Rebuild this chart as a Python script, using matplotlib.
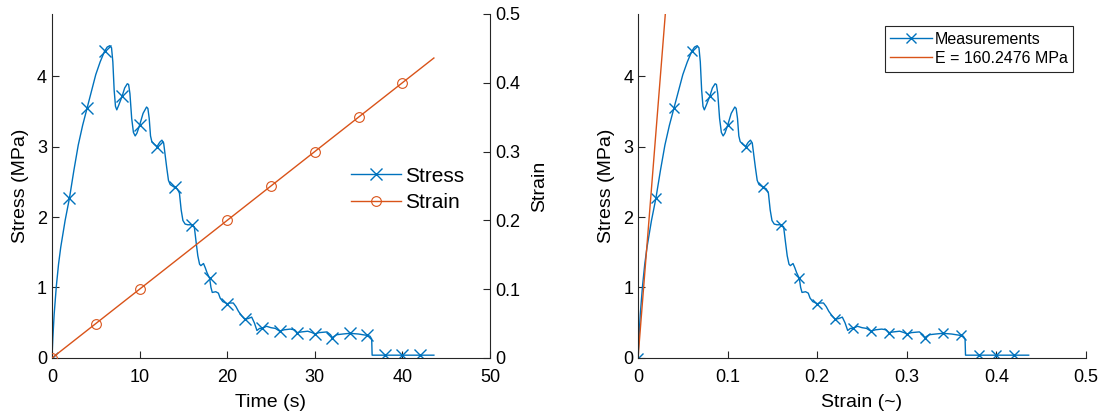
import numpy as np
import matplotlib
matplotlib.use("Agg")
import matplotlib.pyplot as plt

plt.rcParams["font.family"] = ["Liberation Sans", "DejaVu Sans"]

# measured compression test, stress sampled along time
time_s = [
    0.0, 0.1, 0.25, 0.5, 0.75, 1.0, 1.5, 2.0, 2.5, 3.0, 3.5, 4.0, 4.5, 5.0,
    5.5, 6.0, 6.3, 6.6, 6.8, 6.95, 7.1, 7.25, 7.4, 7.6, 8.0, 8.3, 8.6, 8.75,
    8.9, 9.1, 9.3, 9.5, 9.7, 10.0, 10.4, 10.8, 10.95, 11.1, 11.25, 11.4,
    11.7, 12.0, 12.3, 12.55, 12.75, 12.9, 13.1, 13.3, 13.5, 14.0, 14.3,
    14.55, 14.75, 14.95, 15.2, 15.5, 16.0, 16.25, 16.45, 16.65, 16.85, 17.0,
    17.3, 17.5, 17.7, 18.0, 18.15, 18.3, 18.7, 19.0, 19.2, 19.5, 20.0, 20.3,
    20.7, 21.0, 21.3, 21.65, 22.0, 22.4, 22.8, 23.1, 23.4, 23.7, 24.0, 24.5,
    25.0, 25.5, 26.0, 26.5, 27.2, 27.7, 28.0, 28.5, 29.2, 29.7, 30.0, 30.5,
    31.4, 31.8, 32.0, 32.5, 33.2, 34.0, 35.0, 36.0, 36.3, 36.5, 36.55, 38.0,
    40.0, 42.0, 43.6,
]
stress_mpa = [
    0.00, 0.28, 0.62, 1.02, 1.33, 1.57, 1.95, 2.27, 2.66, 3.02, 3.30, 3.54,
    3.78, 4.02, 4.20, 4.35, 4.41, 4.43, 4.40, 4.20, 3.80, 3.57, 3.52, 3.58,
    3.71, 3.83, 3.89, 3.88, 3.75, 3.40, 3.20, 3.15, 3.19, 3.30, 3.47, 3.56,
    3.54, 3.40, 3.15, 3.07, 3.03, 3.00, 3.06, 3.09, 3.05, 2.90, 2.70, 2.52,
    2.46, 2.42, 2.40, 2.34, 2.10, 1.95, 1.90, 1.89, 1.89, 1.86, 1.65, 1.45,
    1.33, 1.31, 1.34, 1.28, 1.21, 1.13, 1.00, 0.93, 0.94, 0.92, 0.85, 0.80,
    0.77, 0.78, 0.78, 0.73, 0.66, 0.60, 0.55, 0.56, 0.58, 0.50, 0.39, 0.42,
    0.42, 0.45, 0.43, 0.42, 0.38, 0.40, 0.41, 0.40, 0.36, 0.37, 0.38, 0.36,
    0.34, 0.36, 0.37, 0.33, 0.29, 0.33, 0.34, 0.35, 0.34, 0.32, 0.31, 0.27,
    0.04, 0.04, 0.04, 0.04, 0.04,
]
strain = [
    0.0, 0.001, 0.0025, 0.005, 0.0075, 0.01, 0.015, 0.02, 0.025, 0.03, 0.035,
    0.04, 0.045, 0.05, 0.055, 0.06, 0.063, 0.066, 0.068, 0.0695, 0.071,
    0.0725, 0.074, 0.076, 0.08, 0.083, 0.086, 0.0875, 0.089, 0.091, 0.093,
    0.095, 0.097, 0.1, 0.104, 0.108, 0.1095, 0.111, 0.1125, 0.114, 0.117,
    0.12, 0.123, 0.1255, 0.1275, 0.129, 0.131, 0.133, 0.135, 0.14, 0.143,
    0.1455, 0.1475, 0.1495, 0.152, 0.155, 0.16, 0.1625, 0.1645, 0.1665,
    0.1685, 0.17, 0.173, 0.175, 0.177, 0.18, 0.1815, 0.183, 0.187, 0.19,
    0.192, 0.195, 0.2, 0.203, 0.207, 0.21, 0.213, 0.2165, 0.22, 0.224, 0.228,
    0.231, 0.234, 0.237, 0.24, 0.245, 0.25, 0.255, 0.26, 0.265, 0.272, 0.277,
    0.28, 0.285, 0.292, 0.297, 0.3, 0.305, 0.314, 0.318, 0.32, 0.325, 0.332,
    0.34, 0.35, 0.36, 0.363, 0.365, 0.3655, 0.38, 0.4, 0.42, 0.436,
]
stress_marker_times = [0, 2, 4, 6, 8, 10, 12, 14, 16, 18, 20, 22, 24, 26,
                       28, 30, 32, 34, 36, 38, 40, 42]
strain_marker_times = [0, 5, 10, 15, 20, 25, 30, 35, 40]

youngs_modulus = 160.2476  # MPa, slope of the initial linear region
fit_strain = [0.0, 0.04]

BLUE = "#0072BD"
ORANGE = "#D95319"
AXIS_COLOR = "#262626"

t = np.array(time_s)
stress_idx = list(np.where(np.isin(t, stress_marker_times))[0])
strain_idx = list(np.where(np.isin(t, strain_marker_times))[0])
fit_stress = [youngs_modulus * e for e in fit_strain]


def style_axes(ax, right=False):
    for side in ["top"] + ([] if right else ["right"]):
        ax.spines[side].set_visible(False)
    for sp in ax.spines.values():
        sp.set_color(AXIS_COLOR)
        sp.set_linewidth(0.8)
    ax.tick_params(direction="in", colors=AXIS_COLOR, labelsize=13,
                   length=5, width=0.8, labelcolor="black")
    ax.tick_params(axis="x", pad=8)


fig = plt.figure(figsize=(11.01, 4.17), dpi=100)

# stress and strain against time
ax1 = fig.add_axes([0.0472, 0.1415, 0.3978, 0.825])
ax2 = ax1.twinx()
h1, = ax1.plot(time_s, stress_mpa, color=BLUE, lw=1.0, marker="x",
               markevery=stress_idx, markersize=9, mew=1.0, label="Stress")
h2, = ax2.plot(time_s, strain, color=ORANGE, lw=1.0, marker="o",
               markevery=strain_idx, markersize=7, mew=0.8,
               markerfacecolor="none", label="Strain")
ax1.set_xlim(0, 50)
ax1.set_ylim(0, 4.88)
ax2.set_ylim(0, 0.5)
ax1.set_xticks([0, 10, 20, 30, 40, 50])
ax1.set_yticks([0, 1, 2, 3, 4])
ax2.set_yticks([0, 0.1, 0.2, 0.3, 0.4, 0.5])
ax2.set_yticklabels(["0", "0.1", "0.2", "0.3", "0.4", "0.5"])
style_axes(ax1)
style_axes(ax2, right=True)
ax2.spines["left"].set_visible(False)
ax2.spines["bottom"].set_visible(False)
ax1.set_xlabel("Time (s)", fontsize=14, labelpad=6)
ax1.set_ylabel("Stress (MPa)", fontsize=14, labelpad=6)
ax2.set_ylabel("Strain", fontsize=14, labelpad=8)
ax1.legend(handles=[h1, h2], loc="center right", bbox_to_anchor=(0.985, 0.49),
           frameon=False, fontsize=15, handlelength=2.4, handletextpad=0.2,
           labelspacing=0.35)

# stress-strain curve with the linear fit
ax3 = fig.add_axes([0.5795, 0.1415, 0.4069, 0.825])
ax3.plot(strain, stress_mpa, color=BLUE, lw=1.0, marker="x",
         markevery=stress_idx, markersize=7, mew=1.0, label="Measurements")
ax3.plot(fit_strain, fit_stress, color=ORANGE, lw=1.0,
         label=f"E = {youngs_modulus:.4f} MPa")
ax3.set_xlim(0, 0.5)
ax3.set_ylim(0, 4.88)
ax3.set_xticks([0, 0.1, 0.2, 0.3, 0.4, 0.5])
ax3.set_xticklabels(["0", "0.1", "0.2", "0.3", "0.4", "0.5"])
ax3.set_yticks([0, 1, 2, 3, 4])
style_axes(ax3)
ax3.set_xlabel("Strain (~)", fontsize=14, labelpad=6)
ax3.set_ylabel("Stress (MPa)", fontsize=14, labelpad=6)
leg = ax3.legend(loc="upper right", bbox_to_anchor=(0.979, 0.973),
                 fontsize=11.5, handlelength=2.6, handletextpad=0.2,
                 borderpad=0.35, labelspacing=0.25, borderaxespad=0.2,
                 fancybox=False, framealpha=1.0)
leg.get_frame().set_edgecolor(AXIS_COLOR)
leg.get_frame().set_linewidth(0.8)

fig.savefig("out.png", dpi=100)
